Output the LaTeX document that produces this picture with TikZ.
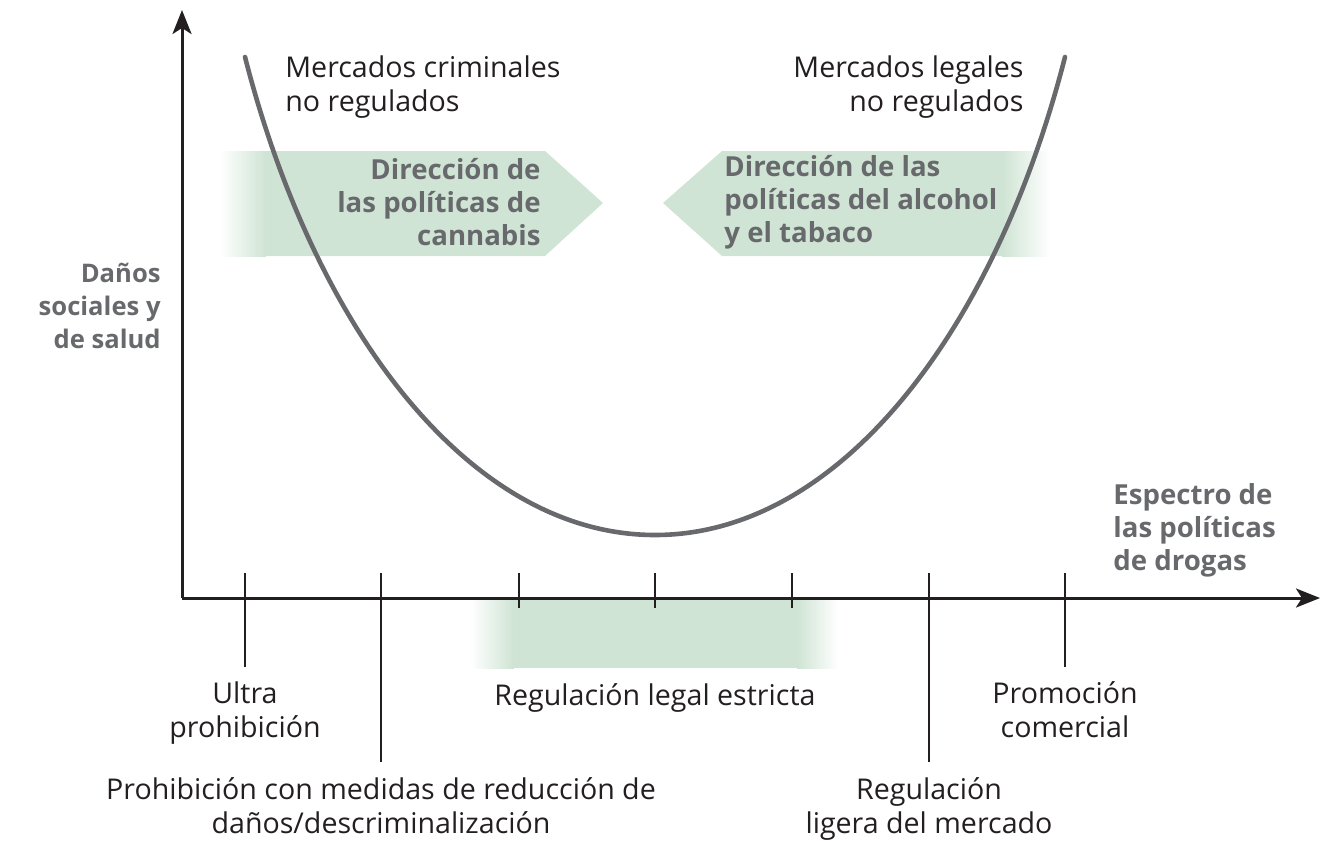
\documentclass[tikz,border=0pt]{standalone}
\usepackage{fontspec}
\setmainfont{Open Sans}
\usetikzlibrary{arrows.meta,positioning}
\definecolor{mint}{RGB}{207,228,212}
\definecolor{inkgray}{RGB}{104,105,108}
\definecolor{ink}{RGB}{35,31,32}
\tikzset{
  axisline/.style={draw=ink, line width=1.5pt, -{Stealth[length=12pt,width=9.5pt,inset=3pt]}},
  tickline/.style={draw=ink, line width=1.4pt},
  harmcurve/.style={draw=inkgray, line width=2.3pt, line cap=round},
  lbl/.style={font=\fontsize{14.3}{17}\selectfont, text=ink, inner sep=0pt, align=center},
  boldlbl/.style={font=\fontsize{13.8}{16.5}\selectfont\bfseries, text=inkgray, inner sep=0pt},
}
\begin{document}
\begin{tikzpicture}[x=0.5pt, y=-0.5pt]
\useasboundingbox (0,0) rectangle (1321,840);
\def \axisy {598}
\def \ticktop {573}
% green bands: arrows and strict regulation zone
\shade[left color=white, right color=mint] (220,151) rectangle (266,256);
\fill[mint] (265,151) -- (545,151) -- (603,203) -- (545,256) -- (265,256) -- cycle;
\shade[left color=mint, right color=white] (1002,151) rectangle (1050,256);
\fill[mint] (1003,151) -- (722,151) -- (663,203) -- (722,256) -- (1003,256) -- cycle;
\shade[left color=white, right color=mint] (470,600) rectangle (514,668);
\fill[mint] (513,600) rectangle (798,668);
\shade[left color=mint, right color=white] (797,600) rectangle (838,668);
% axes
\coordinate (O) at (182,\axisy);
\coordinate (ytip) at (182,10);
\coordinate (xtip) at (1320,\axisy);
\draw[axisline] (O) -- (ytip);
\draw[axisline] (O) -- (xtip);
% ticks
\foreach \nm/\x/\len in {a/245/94, b/381/189, c/519/35, d/655/35, e/792/35, f/929/189, g/1065/94}
{
\coordinate (top\nm) at (\x,\ticktop);
\coordinate (end\nm) at (\x,\ticktop+\len);
\draw[tickline] (top\nm) -- (end\nm);
}
% U curve
\coordinate (cL) at (245,57);
\coordinate (cM) at (655,535);
\coordinate (cR) at (1065,57);
\draw[harmcurve] (cL) .. controls (315,330) and (470,535) .. (cM)
                      .. controls (840,535) and (995,330) .. (cR);
% labels
\node[lbl, anchor=west, align=left] (crim) at (285,87) {Mercados criminales\\no regulados};
\node[lbl, anchor=east, align=right] (legal) at (1024,87) {Mercados legales\\no regulados};
\node[boldlbl, anchor=east, align=right] (cann) at (541,202) {Dirección de\\las políticas de\\cannabis};
\node[boldlbl, anchor=west, align=left] (alco) at (724,202) {Dirección de las\\políticas del alcohol\\y el tabaco};
\node[boldlbl, font=\fontsize{12.8}{16.5}\selectfont\bfseries, anchor=east, align=right] (harm) at (161,306) {Daños\\sociales y\\de salud};
\node[boldlbl, anchor=west, align=left] (spec) at (1113,530) {Espectro de\\las políticas\\de drogas};
\node[lbl, below=7pt of enda] (ultra) {Ultra\\prohibición};
\node[lbl, below=7.5pt of endb] (harmred) {Prohibición con medidas de reducción de\\daños/descriminalización};
\node[lbl, below=37.5pt of endd] (strict) {Regulación legal estricta};
\node[lbl, below=7.5pt of endf] (light) {Regulación\\ligera del mercado};
\node[lbl, below=7pt of endg] (promo) {Promoción\\comercial};
\end{tikzpicture}
\end{document}
